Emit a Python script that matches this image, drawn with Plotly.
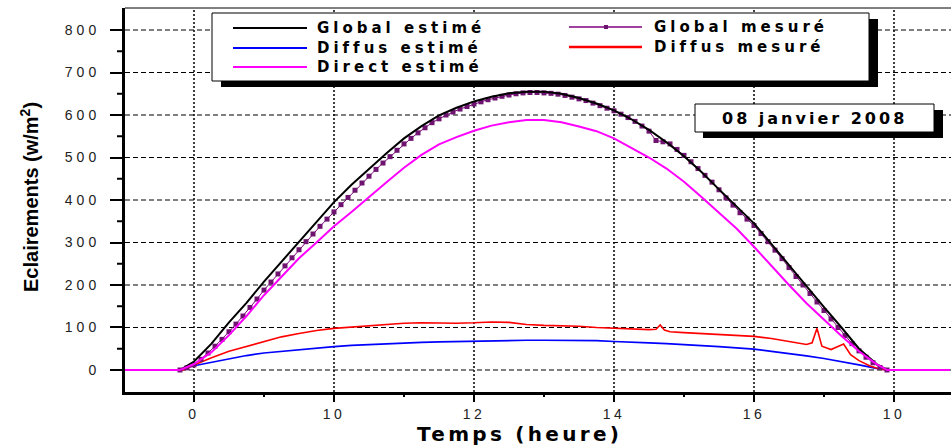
import plotly.graph_objects as go

# ---------------- data ----------------
hours_est = [7.0, 7.8, 8.0, 8.25, 8.5, 8.75, 9.0, 9.25, 9.5, 9.75, 10.0, 10.25, 10.5, 10.75,
             11.0, 11.25, 11.5, 11.75, 12.0, 12.25, 12.5, 12.75, 13.0, 13.25, 13.5, 13.75,
             14.0, 14.25, 14.5, 14.75, 15.0, 15.25, 15.5, 15.75, 16.0, 16.25, 16.5, 16.75,
             17.0, 17.25, 17.5, 17.75, 17.9, 18.8]
global_est = [0, 0, 20, 62, 112, 158, 208, 255, 303, 350, 395, 436, 474, 510,
              545, 574, 599, 617, 632, 643, 651, 655, 655, 650, 640, 627,
              611, 590, 565, 536, 503, 466, 425, 384, 345, 296, 246, 196,
              148, 100, 50, 14, 0, 0]
direct_est = [0, 0, 14, 42, 82, 127, 176, 220, 263, 300, 338, 372, 408, 442,
              476, 506, 531, 548, 563, 575, 583, 588, 588, 583, 573, 562,
              545, 523, 500, 474, 443, 407, 369, 333, 290, 244, 200, 157,
              118, 80, 44, 14, 0, 0]
diffus_est = [0, 0, 10, 18, 26, 34, 40, 44, 48, 52, 55, 58, 60, 62,
              63, 65, 66, 67, 68, 69, 70, 70, 70, 70, 70, 69,
              67, 66, 64, 62, 60, 58, 55, 52, 49, 44, 39, 33,
              27, 20, 12, 4, 0, 0]

hours_dif_mes = [7.0, 7.85, 8.0, 8.25, 8.5, 8.75, 9.0, 9.25, 9.5, 9.75, 10.0, 10.25, 10.5,
                 10.75, 11.0, 11.25, 11.5, 11.75, 12.0, 12.25, 12.5, 12.75, 13.0, 13.25,
                 13.5, 13.75, 14.0, 14.25, 14.5, 14.6, 14.66, 14.72, 14.8, 15.0, 15.25,
                 15.5, 15.75, 16.0, 16.25, 16.5, 16.75, 16.83, 16.9, 16.97, 17.1, 17.28,
                 17.38, 17.5, 17.65, 17.8, 17.9, 18.8]
diffus_mes = [0, 0, 12, 29, 44, 55, 67, 78, 86, 93, 98, 101, 104,
              107, 110, 111, 110, 110, 111, 113, 112, 107, 105, 104,
              103, 100, 98, 97, 95, 96, 106, 94, 90, 88, 86,
              83, 82, 79, 74, 67, 60, 64, 98, 56, 48, 61,
              36, 22, 10, 2, 0, 0]

hours_glob_mes = [7.8, 7.9, 8.0, 8.1, 8.2, 8.3, 8.4, 8.5, 8.6, 8.7, 8.8, 8.9,
                  9.0, 9.1, 9.2, 9.3, 9.4, 9.5, 9.6, 9.7, 9.8, 9.9,
                  10.0, 10.1, 10.2, 10.3, 10.4, 10.5, 10.6, 10.7, 10.8, 10.9,
                  11.0, 11.1, 11.2, 11.3, 11.4, 11.5, 11.6, 11.7, 11.8, 11.9,
                  12.0, 12.1, 12.2, 12.3, 12.4, 12.5, 12.6, 12.7, 12.8, 12.9,
                  13.0, 13.1, 13.2, 13.3, 13.4, 13.5, 13.6, 13.7, 13.8, 13.9,
                  14.0, 14.1, 14.2, 14.3, 14.4, 14.5, 14.6, 14.7, 14.8, 14.9,
                  15.0, 15.1, 15.2, 15.3, 15.4, 15.5, 15.6, 15.7, 15.8, 15.9,
                  16.0, 16.1, 16.2, 16.3, 16.4, 16.5, 16.6, 16.7, 16.8, 16.9,
                  17.0, 17.1, 17.2, 17.3, 17.4, 17.5, 17.6, 17.7, 17.8, 17.9]
global_mes = [0, 5, 12, 25, 40, 56, 72, 90, 108, 127, 147, 167,
              188, 207, 226, 245, 264, 283, 302, 320, 338, 355,
              372, 389, 406, 423, 440, 456, 472, 487, 502, 517,
              532, 545, 558, 570, 582, 591, 600, 607, 614, 620,
              626, 631, 636, 640, 644, 647, 650, 652, 653, 653,
              652, 651, 649, 646, 642, 638, 634, 628, 622, 616,
              610, 602, 594, 585, 574, 562, 540, 537, 532, 519,
              505, 490, 474, 458, 442, 424, 405, 388, 370, 355,
              340, 321, 302, 282, 262, 241, 220, 200, 180, 160,
              140, 120, 100, 81, 62, 45, 30, 17, 6, 0]

x_tickvals = [8, 10, 12, 14, 16, 18]
x_ticktext = ["0", "10", "12", "14", "16", "10"]
x_minor = [9, 11, 13, 15, 17]
y_tickvals = [0, 100, 200, 300, 400, 500, 600, 700, 800]
y_minor = [50, 150, 250, 350, 450, 550, 650, 750]

legend_col1 = ["Global estimé", "Diffus estimé", "Direct estimé"]
legend_col2 = ["Global mesuré", "Diffus mesuré"]
date_label = "08 janvier 2008"
x_title = "Temps (heure)"
y_title = "Eclairements (w/m<sup>2</sup>)"

# ---------------- layout helpers ----------------
W, H = 951, 447
ML, MT, MB = 125, 8, 55
PW, PH = W - ML, H - MT - MB


def X(px):
    return (px - ML) / PW


def Y(py):
    return (H - MB - py) / PH


def sp(text, ls):
    return "<span style='letter-spacing:%spx'>%s</span>" % (ls, text)


fig = go.Figure()
fig.add_trace(go.Scatter(x=hours_est, y=diffus_est, mode="lines",
                         line=dict(color="#0000FF", width=1.7), showlegend=False))
fig.add_trace(go.Scatter(x=hours_dif_mes, y=diffus_mes, mode="lines",
                         line=dict(color="#FF0000", width=1.6), showlegend=False))
fig.add_trace(go.Scatter(x=hours_glob_mes, y=global_mes, mode="lines+markers",
                         line=dict(color="#800080", width=1),
                         marker=dict(symbol="square", size=5, color="#6E1470"),
                         showlegend=False))
fig.add_trace(go.Scatter(x=hours_est, y=global_est, mode="lines",
                         line=dict(color="#000000", width=2), showlegend=False))
fig.add_trace(go.Scatter(x=hours_est, y=direct_est, mode="lines",
                         line=dict(color="#FF00FF", width=2), showlegend=False))

tickfont = dict(family="Liberation Sans, Arial", size=14, color="#222222")

fig.update_xaxes(
    range=[8 - 69 / 70, 8 + 757 / 70],
    tickmode="array", tickvals=x_tickvals,
    ticktext=[sp(t, 3.5) for t in x_ticktext],
    ticks="outside", ticklen=7, tickwidth=2, tickcolor="black",
    showline=True, linewidth=3, linecolor="black",
    showgrid=False, zeroline=False, tickfont=tickfont,
)
fig.update_yaxes(
    range=[-51.8, 851.8],
    tickmode="array", tickvals=y_tickvals,
    ticktext=[sp(str(v), 4) for v in y_tickvals],
    ticks="outside", ticklen=12, tickwidth=2, tickcolor="black",
    ticklabelstandoff=7,
    showline=True, linewidth=3, linecolor="black",
    showgrid=False, zeroline=False, tickfont=tickfont,
)

shapes = []
# grid lines (below the curves)
for xv in x_tickvals:
    shapes.append(dict(type="line", xref="x", yref="paper", x0=xv, x1=xv, y0=0, y1=1,
                       layer="below", line=dict(color="black", width=1.5, dash="2px,2px")))
for yv in y_tickvals:
    shapes.append(dict(type="line", xref="paper", yref="y", x0=0, x1=1, y0=yv, y1=yv,
                       layer="below", line=dict(color="black", width=1, dash="5px,3px")))
# minor ticks
for xv in x_minor:
    shapes.append(dict(type="line", xref="x", yref="paper", x0=xv, x1=xv,
                       y0=Y(392), y1=Y(397), line=dict(color="black", width=2)))
for yv in y_minor:
    shapes.append(dict(type="line", xref="paper", yref="y", x0=X(117), x1=X(124),
                       y0=yv, y1=yv, line=dict(color="black", width=2)))
# top frame line
shapes.append(dict(type="line", xref="paper", yref="paper", x0=0, x1=1, y0=1, y1=1,
                   line=dict(color="black", width=1)))
# legend box with shadow
shapes.append(dict(type="rect", xref="paper", yref="paper", layer="above",
                   x0=X(221), x1=X(878), y0=Y(87), y1=Y(19),
                   fillcolor="black", line=dict(width=0)))
shapes.append(dict(type="rect", xref="paper", yref="paper", layer="above",
                   x0=X(212), x1=X(869), y0=Y(81), y1=Y(13),
                   fillcolor="white", line=dict(color="black", width=1)))
leg1_colors = ["#000000", "#0000FF", "#FF00FF"]
leg1_y = [28, 48, 67]
for c, yy in zip(leg1_colors, leg1_y):
    shapes.append(dict(type="line", xref="paper", yref="paper", layer="above",
                       x0=X(233), x1=X(307), y0=Y(yy), y1=Y(yy),
                       line=dict(color=c, width=2)))
leg2_colors = ["#800080", "#FF0000"]
leg2_y = [27, 47]
for c, yy in zip(leg2_colors, leg2_y):
    shapes.append(dict(type="line", xref="paper", yref="paper", layer="above",
                       x0=X(569), x1=X(642), y0=Y(yy), y1=Y(yy),
                       line=dict(color=c, width=1.5 if c == "#800080" else 2.5)))
shapes.append(dict(type="rect", xref="paper", yref="paper", layer="above",
                   x0=X(604), x1=X(608), y0=Y(29), y1=Y(25),
                   fillcolor="#6E1470", line=dict(width=0)))
# date box with shadow
shapes.append(dict(type="rect", xref="paper", yref="paper", layer="above",
                   x0=X(703), x1=X(943), y0=Y(138), y1=Y(110),
                   fillcolor="black", line=dict(width=0)))
shapes.append(dict(type="rect", xref="paper", yref="paper", layer="above",
                   x0=X(695), x1=X(934), y0=Y(132), y1=Y(104),
                   fillcolor="white", line=dict(color="black", width=1)))

annotations = []
legfont = dict(family="DejaVu Sans", size=15, color="black", weight="bold")
for t, yy in zip(legend_col1, leg1_y):
    annotations.append(dict(xref="paper", yref="paper", x=X(315), y=Y(yy), text=sp(t, 4),
                            showarrow=False, xanchor="left", yanchor="middle", font=legfont))
for t, yy in zip(legend_col2, leg2_y):
    annotations.append(dict(xref="paper", yref="paper", x=X(652), y=Y(yy), text=sp(t, 4),
                            showarrow=False, xanchor="left", yanchor="middle", font=legfont))
annotations.append(dict(xref="paper", yref="paper", x=X(814), y=Y(118), text=sp(date_label, 3),
                        showarrow=False, xanchor="center", yanchor="middle",
                        font=dict(family="DejaVu Sans", size=16, color="black", weight="bold")))
annotations.append(dict(xref="paper", yref="paper", x=X(519), y=Y(434), text=sp(x_title, 3.3),
                        showarrow=False, xanchor="center", yanchor="middle",
                        font=dict(family="DejaVu Sans", size=20, color="black", weight="bold")))
annotations.append(dict(xref="paper", yref="paper", x=X(29), y=Y(197), text=y_title,
                        textangle=-90, showarrow=False, xanchor="center", yanchor="middle",
                        font=dict(family="Liberation Sans Narrow, Arial Narrow, Liberation Sans",
                                  size=20, color="black", weight="bold")))

fig.update_layout(
    width=W, height=H,
    margin=dict(l=ML, r=0, t=MT, b=MB, pad=0),
    paper_bgcolor="white", plot_bgcolor="white",
    shapes=shapes, annotations=annotations,
    showlegend=False,
)

fig.write_html("out.html")
